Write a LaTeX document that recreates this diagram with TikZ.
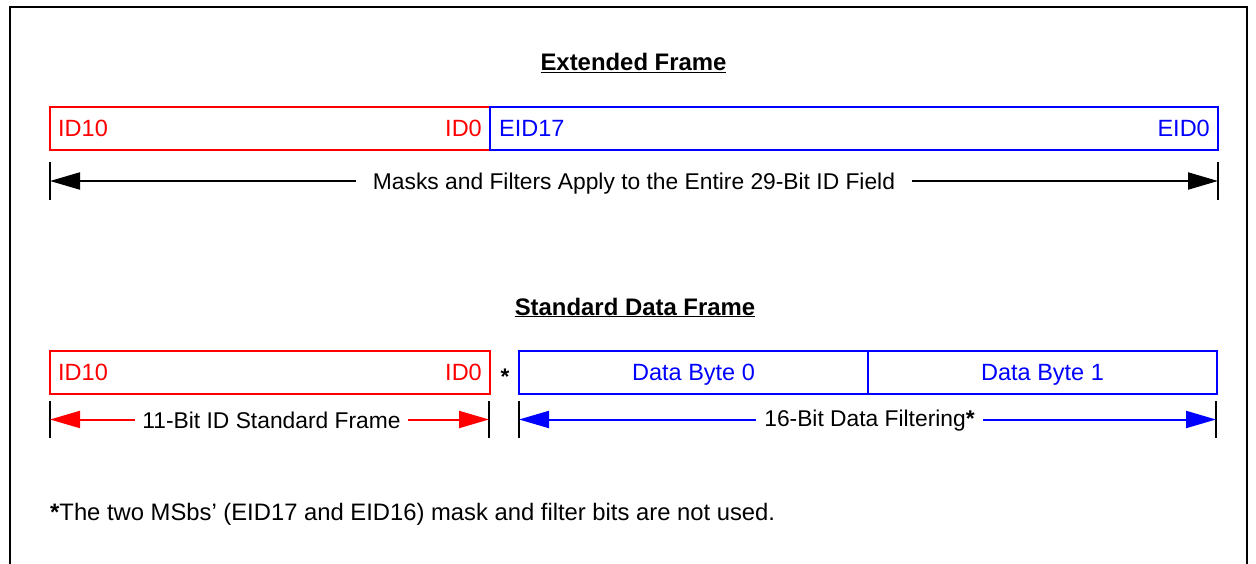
\documentclass[tikz,border=0pt]{standalone}
\usepackage{fontspec}
\setmainfont{Liberation Sans}
\usetikzlibrary{arrows.meta}
\definecolor{fr}{RGB}{255,0,0}
\definecolor{fb}{RGB}{0,0,255}
\tikzset{
  every node/.style={font=\fontsize{22.8}{27}\selectfont},
  frame/.style={line width=2.4pt, black},
  redbox/.style={draw=fr, line width=2pt, rectangle, inner sep=0pt, minimum height=43pt},
  bluebox/.style={draw=fb, line width=2pt, rectangle, inner sep=0pt, minimum height=43pt},
  redtxt/.style={text=fr, inner sep=0pt, font=\fontsize{23.5}{27}\selectfont},
  bluetxt/.style={text=fb, inner sep=0pt, font=\fontsize{23.5}{27}\selectfont},
  tick/.style={line width=2pt, black},
  arrk/.style={line width=2pt, black, {Triangle[length=30pt,width=17pt]}-{Triangle[length=30pt,width=17pt]}},
  arrr/.style={line width=2pt, fr, {Triangle[length=30pt,width=17pt]}-{Triangle[length=30pt,width=17pt]}},
  arrb/.style={line width=2pt, fb, {Triangle[length=30pt,width=17pt]}-{Triangle[length=30pt,width=17pt]}},
  lab/.style={fill=white, text=black, inner ysep=2pt},
  title/.style={font=\fontsize{23.9}{27}\selectfont\bfseries, inner sep=0pt, anchor=base},
}
\begin{document}
\begin{tikzpicture}[x=1pt,y=-1pt]
\useasboundingbox (0,0) rectangle (1256,564);
% outer frame (open at bottom)
\draw[frame] (10,570) -- (10,7) -- (1247,7) -- (1247,570);

% ---------- Extended Frame ----------
\node[title] (t1) at (633.5,71) {\underline{Extended Frame}};
\node[redbox, minimum width=440pt] (exid) at (270,128.5) {};
\node[bluebox, minimum width=728pt] (exeid) at (854,128.5) {};
\node[redtxt, anchor=base west] (x1) at (58,137) {ID10};
\node[redtxt, anchor=base east] (x2) at (482,137) {ID0};
\node[bluetxt, anchor=base west] (x3) at (499,137) {EID17};
\node[bluetxt, anchor=base east] (x4) at (1210,137) {EID0};

\coordinate (eL) at (50,181);
\coordinate (eR) at (1218,181);
\draw[tick] ([yshift=19pt]eL) -- ([yshift=-19pt]eL);
\draw[tick] ([yshift=19pt]eR) -- ([yshift=-19pt]eR);
\draw[arrk] (eL) -- (eR) node[lab, midway, inner xsep=17pt, yshift=-3pt] (m1) {Masks and Filters Apply to the Entire 29-Bit ID Field};

% ---------- Standard Data Frame ----------
\node[title] (t2) at (635,315) {\underline{Standard Data Frame}};
\node[redbox, minimum width=440pt] (sid) at (270,372) {};
\node[bluebox, minimum width=349pt] (db0) at (693.5,372) {};
\node[bluebox, minimum width=349pt] (db1) at (1042.5,372) {};
\node[redtxt, anchor=base west] (s1) at (58,380.5) {ID10};
\node[redtxt, anchor=base east] (s2) at (482,380.5) {ID0};
\node[inner sep=0pt, anchor=base, font=\fontsize{22.6}{27}\selectfont\bfseries] (star) at (505,384) {*};
\node[bluetxt, anchor=base] (d0) at (693.5,380.5) {Data Byte 0};
\node[bluetxt, anchor=base] (d1) at (1042.5,380.5) {Data Byte 1};

\coordinate (rL) at (50,419.5);
\coordinate (rR) at (489,419.5);
\coordinate (bL) at (519,419.5);
\coordinate (bR) at (1216,419.5);
\draw[tick] ([yshift=18.5pt]rL) -- ([yshift=-18.5pt]rL);
\draw[tick] ([yshift=18.5pt]rR) -- ([yshift=-18.5pt]rR);
\draw[tick] ([yshift=18.5pt]bL) -- ([yshift=-18.5pt]bL);
\draw[tick] ([yshift=18.5pt]bR) -- ([yshift=-18.5pt]bR);
\draw[arrr] (rL) -- (rR) node[lab, midway, inner xsep=7pt, xshift=2pt, yshift=-1pt] (m2) {11-Bit ID Standard Frame};
\draw[arrb] (bL) -- (bR) node[lab, midway, inner xsep=8pt, xshift=2pt, yshift=-1pt] (m3) {16-Bit Data Filtering\textbf{*}};

% ---------- footnote ----------
\node[inner sep=0pt, anchor=base west, font=\fontsize{23.8}{28}\selectfont] (fn) at (50,520) {\textbf{*}The two MSbs’ (EID17 and EID16) mask and filter bits are not used.};
\end{tikzpicture}
\end{document}
